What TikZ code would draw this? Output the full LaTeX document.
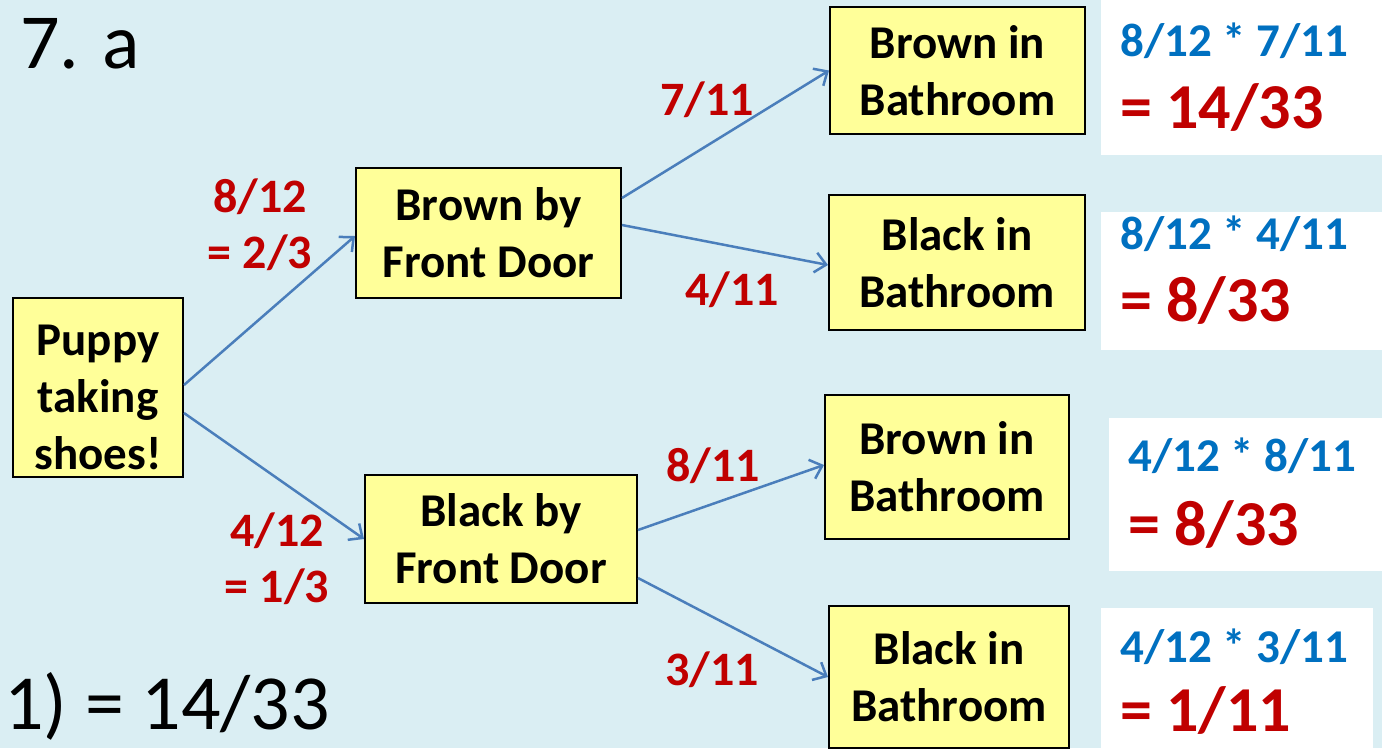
\documentclass[tikz,border=0pt]{standalone}
\usepackage{fontspec}
\setmainfont{Carlito}
\usetikzlibrary{arrows.meta}
\definecolor{bgblue}{HTML}{DAEEF3}
\definecolor{boxyellow}{HTML}{FFFF99}
\definecolor{arrowblue}{HTML}{4A7EBB}
\definecolor{probred}{HTML}{C00000}
\definecolor{prodblue}{HTML}{0070C0}
\tikzset{
  box/.style={draw=black, line width=2pt, fill=boxyellow, align=center, inner sep=0pt,
    font=\fontsize{47}{57}\selectfont\bfseries},
  arr/.style={draw=arrowblue, line width=2.5pt, -{Straight Barb[length=11pt,width=20pt]}},
  prob/.style={text=probred, align=center, inner sep=0pt, font=\fontsize{48}{56}\selectfont\bfseries},
  card/.style={fill=white, inner sep=0pt},
  prod/.style={text=prodblue, anchor=base west, inner sep=0pt, font=\fontsize{47}{55}\selectfont\bfseries},
  res/.style={text=probred, anchor=base west, inner sep=0pt, font=\fontsize{64}{70}\selectfont\bfseries},
  big/.style={anchor=base west, inner sep=0pt, font=\fontsize{78}{90}\selectfont}
}
\begin{document}
\begin{tikzpicture}[x=1pt,y=-1pt]
\fill[bgblue] (0,0) rectangle (1382,748);
\useasboundingbox (0,0) rectangle (1382,748);
% white answer cards
\node[card, minimum width=281pt, minimum height=155pt] (card1) at (1241.5,77.5) {};
\node[card, minimum width=281pt, minimum height=138pt] (card2) at (1241.5,281) {};
\node[card, minimum width=273pt, minimum height=153pt] (card3) at (1245.5,494.5) {};
\node[card, minimum width=272pt, minimum height=140pt] (card4) at (1237,678) {};
% tree boxes
\node[box, minimum width=170pt, minimum height=179pt] (puppy) at (98,387.5) {\rule{0pt}{50pt}Puppy\\taking\\shoes!};
\node[box, minimum width=265pt, minimum height=130pt] (brownfd) at (488.5,233) {Brown by\\Front Door};
\node[box, minimum width=272pt, minimum height=128pt] (blackfd) at (501,539) {Black by\\Front Door};
\node[box, minimum width=255pt, minimum height=127pt] (brownbath1) at (957.5,70.5) {Brown in\\Bathroom};
\node[box, minimum width=256pt, minimum height=135pt] (blackbath1) at (957,262.5) {Black in\\Bathroom};
\node[box, minimum width=244pt, minimum height=144pt] (brownbath2) at (947,467) {Brown in\\Bathroom};
\node[box, minimum width=240pt, minimum height=142pt] (blackbath2) at (949,677) {Black in\\Bathroom};
% branches
\draw[arr] ([yshift=2.5pt]puppy.east) -- ([yshift=-3pt]brownfd.west);
\draw[arr] ([yshift=-25.5pt]puppy.east) -- (blackfd.west);
\draw[arr] ([yshift=35pt]brownfd.east) -- (brownbath1.west);
\draw[arr] ([yshift=8pt]brownfd.east) -- ([yshift=-2.5pt]blackbath1.west);
\draw[arr] ([yshift=9pt]blackfd.east) -- ([yshift=2pt]brownbath2.west);
\draw[arr] ([yshift=-39pt]blackfd.east) -- (blackbath2.west);
% branch probabilities
\node[prob] (p1) at (260,225) {8/12\\= 2/3};
\node[prob] (p2) at (277,559) {4/12\\= 1/3};
\node[prob] (p11) at (707,100) {7/11};
\node[prob] (p12) at (732,290) {4/11};
\node[prob] (p21) at (713,466) {8/11};
\node[prob] (p22) at (712,670) {3/11};
% products
\node[prod] (m1) at (1120,56) {8/12 * 7/11};
\node[res] (r1) at (1120,128) {= 14/33};
\node[prod] (m2) at (1120,249) {8/12 * 4/11};
\node[res] (r2) at (1120,321) {= 8/33};
\node[prod] (m3) at (1128,471) {4/12 * 8/11};
\node[res] (r3) at (1128,545) {= 8/33};
\node[prod] (m4) at (1120,662) {4/12 * 3/11};
\node[res] (r4) at (1120,731) {= 1/11};
% headings
\node[big] (title) at (20,68) {7. a};
\node[big] (answer) at (4,729) {1) = 14/33};
\end{tikzpicture}
\end{document}
